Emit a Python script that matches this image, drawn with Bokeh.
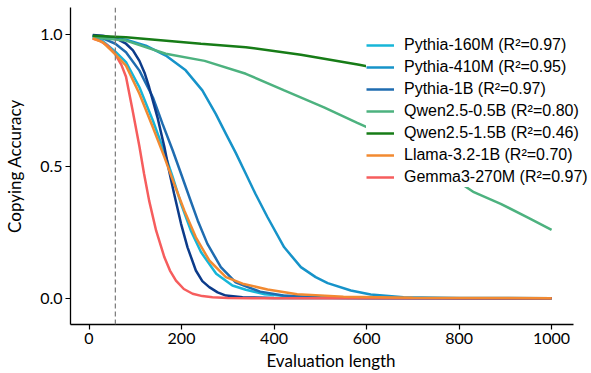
from bokeh.plotting import figure
from bokeh.models import Range1d, Span, Legend, LegendItem, FixedTicker, NumeralTickFormatter
from bokeh.embed import file_html
from bokeh.resources import INLINE

# ---- data ----
x_160m = [8, 30, 57, 80, 109, 138, 159, 181, 199, 220, 242, 275, 310, 339, 380, 450, 550, 1000]
y_160m = [0.99, 0.975, 0.935, 0.895, 0.80, 0.674, 0.573, 0.459, 0.358, 0.257, 0.175, 0.093, 0.048, 0.032, 0.015, 0.005, 0.001, 0.0]

x_410m = [8, 40, 80, 123, 166, 209, 245, 274, 296, 317, 339, 360, 386, 422, 458, 490, 516, 566, 609, 680, 800, 1000]
y_410m = [0.995, 0.99, 0.98, 0.958, 0.92, 0.864, 0.788, 0.699, 0.623, 0.552, 0.472, 0.395, 0.307, 0.193, 0.118, 0.08, 0.057, 0.029, 0.014, 0.004, 0.001, 0.0]

x_1b = [8, 30, 57, 80, 109, 138, 159, 181, 199, 217, 235, 256, 285, 317, 339, 370, 420, 500, 600, 1000]
y_1b = [0.995, 0.985, 0.965, 0.933, 0.863, 0.762, 0.661, 0.56, 0.472, 0.383, 0.295, 0.206, 0.118, 0.06, 0.045, 0.025, 0.01, 0.003, 0.001, 0.0]

x_navy = [8, 30, 57, 80, 95, 109, 120, 130, 148, 163, 173, 184, 199, 213, 231, 245, 260, 278, 296, 332, 400, 1000]
y_navy = [0.998, 0.995, 0.986, 0.965, 0.94, 0.90, 0.855, 0.80, 0.686, 0.573, 0.484, 0.396, 0.282, 0.193, 0.105, 0.065, 0.042, 0.022, 0.01, 0.004, 0.001, 0.0]

x_q05 = [8, 80, 166, 250, 339, 422, 508, 580, 650, 700, 750, 800, 832, 890, 950, 1000]
y_q05 = [0.99, 0.977, 0.927, 0.90, 0.851, 0.788, 0.724, 0.665, 0.61, 0.56, 0.50, 0.44, 0.402, 0.358, 0.305, 0.259]

x_q15 = [8, 80, 242, 339, 458, 584, 700, 850, 1000]
y_q15 = [0.995, 0.99, 0.965, 0.952, 0.923, 0.885, 0.845, 0.79, 0.73]

x_llama = [8, 30, 57, 80, 109, 138, 163, 184, 206, 231, 260, 296, 332, 386, 450, 550, 700, 1000]
y_llama = [0.985, 0.97, 0.925, 0.882, 0.775, 0.648, 0.535, 0.434, 0.333, 0.231, 0.143, 0.08, 0.055, 0.033, 0.015, 0.006, 0.002, 0.0]

x_gemma = [8, 25, 40, 57, 70, 80, 94, 109, 119, 130, 145, 163, 175, 188, 205, 224, 245, 267, 300, 350, 1000]
y_gemma = [0.985, 0.975, 0.958, 0.925, 0.885, 0.84, 0.715, 0.575, 0.472, 0.37, 0.257, 0.155, 0.105, 0.067, 0.035, 0.017, 0.008, 0.004, 0.001, 0.0, 0.0]

labels = ["Pythia-160M (R\u00b2=0.97)", "Pythia-410M (R\u00b2=0.95)", "Pythia-1B (R\u00b2=0.97)",
          "Qwen2.5-0.5B (R\u00b2=0.80)", "Qwen2.5-1.5B (R\u00b2=0.46)", "Llama-3.2-1B (R\u00b2=0.70)",
          "Gemma3-270M (R\u00b2=0.97)"]
x_ticks = [0, 200, 400, 600, 800, 1000]
y_ticks = [0.0, 0.5, 1.0]
dashed_x = 57
x_title = "Evaluation length"
y_title = "Copying Accuracy"

colors = {
    "160m": "#17b6d8", "410m": "#1693c9", "1b": "#1f6cb0", "navy": "#0c3b8a",
    "q05": "#4db27f", "q15": "#177c17", "llama": "#f28a31", "gemma": "#f65d5d",
}

# frame spans to the right edge so the legend is not clipped; the x axis line is bounded
p = figure(frame_width=521, height=373, x_range=Range1d(-40, 1086.3), y_range=Range1d(-0.0997, 1.1024),
           output_backend="svg", toolbar_location=None,
           min_border_left=70, min_border_right=0, min_border_top=7, min_border_bottom=49)
p.outline_line_color = None
p.xgrid.visible = False
p.ygrid.visible = False
p.background_fill_color = "white"
p.border_fill_color = "white"

lw = 2.5
r160 = p.line(x_160m, y_160m, line_color=colors["160m"], line_width=lw)
r410 = p.line(x_410m, y_410m, line_color=colors["410m"], line_width=lw)
r1b = p.line(x_1b, y_1b, line_color=colors["1b"], line_width=lw)
rnavy = p.line(x_navy, y_navy, line_color=colors["navy"], line_width=lw)
rq05 = p.line(x_q05, y_q05, line_color=colors["q05"], line_width=lw)
rq15 = p.line(x_q15, y_q15, line_color=colors["q15"], line_width=lw)
rgem = p.line(x_gemma, y_gemma, line_color=colors["gemma"], line_width=lw)
rllama = p.line(x_llama, y_llama, line_color=colors["llama"], line_width=lw)

p.add_layout(Span(location=dashed_x, dimension="height", line_color="#808080",
                  line_dash="5 3", line_width=1.3))

for ax in (p.xaxis[0], p.yaxis[0]):
    ax.axis_line_width = 1.3
    ax.axis_line_color = "black"
    ax.major_tick_line_color = "black"
    ax.major_tick_line_width = 1.2
    ax.major_tick_out = 5
    ax.major_tick_in = 0
    ax.minor_tick_line_color = None
    ax.major_label_text_font = "Lato"
    ax.major_label_text_font_size = "16px"
    ax.major_label_text_color = "black"
    ax.axis_label_text_font = "Lato"
    ax.axis_label_text_font_size = "17px"
    ax.axis_label_text_font_style = "normal"
    ax.axis_label_text_color = "black"

p.xaxis.bounds = (-40, 1047.3)
p.xaxis.ticker = FixedTicker(ticks=x_ticks)
p.yaxis.ticker = FixedTicker(ticks=y_ticks)
p.yaxis.formatter = NumeralTickFormatter(format="0.0")
p.xaxis.axis_label = x_title
p.yaxis.axis_label = y_title
p.xaxis.major_label_standoff = 3
p.xaxis.axis_label_standoff = 3
p.yaxis.major_label_standoff = 3
p.yaxis.axis_label_standoff = 12

legend = Legend(items=[
    LegendItem(label=labels[0], renderers=[r160]),
    LegendItem(label=labels[1], renderers=[r410]),
    LegendItem(label=labels[2], renderers=[r1b]),
    LegendItem(label=labels[3], renderers=[rq05]),
    LegendItem(label=labels[4], renderers=[rq15]),
    LegendItem(label=labels[5], renderers=[rllama]),
    LegendItem(label=labels[6], renderers=[rgem]),
], location=(296, 137))
legend.label_text_font = "Liberation Sans"
legend.label_text_font_size = "16px"
legend.label_text_color = "black"
legend.glyph_width = 28
legend.glyph_height = 20
legend.label_height = 20
legend.label_standoff = 10
legend.spacing = 2
legend.padding = 7
legend.margin = 0
legend.border_line_color = None
legend.background_fill_color = "white"
legend.background_fill_alpha = 1.0
p.add_layout(legend)

open("out.html", "w").write(file_html(p, INLINE))
